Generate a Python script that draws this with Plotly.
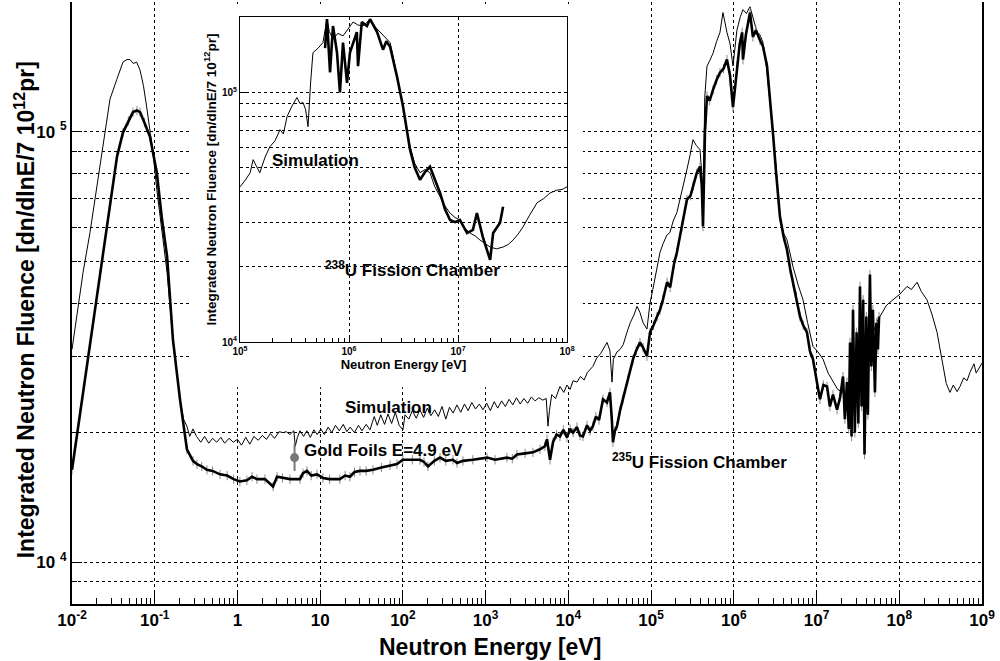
import plotly.graph_objects as go

# ---------------- data ----------------
# Main panel: simulation (thin line)
sim_energy_eV = [
    0.0100, 0.0114, 0.0136, 0.0165, 0.0190, 0.0218, 0.0251, 0.0288, 0.0347, 0.0413,
    0.0460, 0.0502, 0.0550, 0.0605, 0.0664, 0.073, 0.080, 0.0953, 0.106, 0.120,
    0.141, 0.166, 0.185, 0.202, 0.223, 0.245, 0.265, 0.290,
    0.32, 0.36, 0.40, 0.45, 0.50, 0.56, 0.63, 0.70, 0.79, 0.89, 1.0, 1.12, 1.26, 1.41,
    1.58, 1.78, 2.0, 2.24, 2.5, 2.8, 3.2, 3.55, 3.9, 4.3, 4.8, 5.0, 5.3, 5.7, 6.3, 6.9,
    7.6, 8.4, 9.2, 10.2, 11.2, 12.5, 13.8, 15.3, 17, 19, 21, 23, 26, 29, 32, 36, 40,
    45, 49, 54, 60, 66, 73, 81, 90, 100, 106, 118, 130, 145, 160, 178, 197, 218, 242,
    268, 297, 330, 365, 405, 450, 500, 555, 615, 680, 755, 840, 930, 1030, 1140, 1270,
    1400, 1560, 1730, 1920, 2130, 2360, 2620, 2900, 3220, 3570, 3960, 4400, 4900, 5400,
    5670, 5900, 6300, 7000, 7920, 8800, 9620, 10500, 11400, 12700, 14000, 15500, 17000,
    19800, 22000, 24500, 27000, 29300, 31800, 33700, 35000, 38700, 42100, 46000, 51100,
    56000, 62000, 67600, 73400, 80000, 89200, 97000, 105000, 115000, 128000, 140000,
    155000, 169000, 185000, 205000, 225000, 245000, 271000, 295000, 321000, 350000,
    390000, 410000, 424000, 445000, 474000, 510000, 560000, 620000, 680000, 739000,
    780000, 826000, 900000, 977000, 1.09e6, 1.2e6, 1.29e6, 1.42e6, 1.57e6, 1.75e6,
    1.91e6, 2.07e6, 2.25e6, 2.5e6, 2.75e6, 2.97e6, 3.2e6, 3.61e6, 4.0e6, 4.39e6, 4.8e6,
    5.19e6, 6.0e6, 6.86e6, 7.8e6, 9.06e6, 1.04e7, 1.2e7, 1.38e7, 1.58e7, 1.8e7, 2.09e7,
    2.4e7, 2.76e7, 3.2e7, 3.6e7, 4.07e7, 4.7e7, 5.3e7, 5.84e7, 7.0e7, 8.4e7, 1.0e8,
    1.24e8, 1.4e8, 1.64e8, 1.85e8, 2.16e8, 2.5e8, 2.86e8, 3.37e8, 3.7e8, 4.1e8, 4.5e8,
    5.0e8, 5.42e8, 6.0e8, 6.6e8, 7.15e8, 8.0e8, 8.5e8, 9.44e8, 1.0e9,
]
sim_fluence = [
    31200, 37200, 47100, 58300, 70000, 83000, 100000, 119000, 132000, 145000,
    147000, 147000, 144000, 145000, 139000, 128000, 114000, 89400, 73300, 60000,
    47100, 32900, 27500, 23900, 21500, 20700, 19600, 20400,
    19600, 19000, 19600, 18900, 19400, 19000, 19500, 18900, 19400, 19000, 19300, 18700,
    19500, 18800, 19600, 19200, 19700, 19300, 19900, 19400, 20100, 20000, 20100, 19800,
    20200, 18600, 19500, 20200, 19600, 20200, 19500, 20300, 19800, 20400, 19800, 20600,
    20000, 20800, 20200, 20900, 20100, 20600, 20000, 20800, 20200, 20900, 20300, 21800,
    20800, 22000, 20900, 22100, 21000, 22300, 20800, 20300, 22000, 21500, 22500, 21600,
    22600, 21700, 22800, 21900, 22600, 21800, 23000, 21500, 22900, 22200, 23200, 22300,
    23300, 22500, 23500, 22700, 23300, 22600, 23400, 22500, 23600, 22800, 23700, 23000,
    23900, 23200, 24100, 23300, 24000, 23400, 24200, 23700, 24100, 23800, 24000,
    20700, 22500, 24500, 24000, 25600, 24800, 25800, 25200, 26400, 26200, 27000, 26500,
    27600, 28500, 29800, 30500, 31500, 32400, 31000, 26200, 29600, 30800, 31200, 32000,
    34200, 36000, 37500, 39300, 38000, 36000, 34800, 40000, 43000, 47500, 52400, 55000,
    57500, 58300, 62000, 64900, 70000, 74000, 81600, 88000, 95800, 93000,
    90800, 80000, 63500, 120000, 142000, 146000, 152000, 162000, 170000, 189000,
    178000, 170000, 160000, 142000, 172000, 185000, 192000, 188000, 195000, 180000,
    170000, 168000, 161000, 140000, 116000, 99500, 85000, 63500, 58000, 56100, 52000,
    48600, 44000, 40700, 36000, 31700, 30800, 29600, 27500, 26200, 25200, 24800,
    24300, 24800, 26500, 29000, 31200, 33500, 36000, 37200, 39500, 40700, 41800,
    43700, 43000, 44700, 42500, 40700, 37500, 34200, 28500, 26000, 24800, 25800,
    24900, 25600, 26800, 26400, 27600, 28900, 27500, 28500, 29000,
]

# Main panel: measured fluence (thick line)
meas_energy_eV = [
    0.0100, 0.0125, 0.0165, 0.0218, 0.0288, 0.0350, 0.0413, 0.0480, 0.0546, 0.0610,
    0.0664, 0.0750, 0.0877, 0.106, 0.1225, 0.141, 0.166, 0.202, 0.245, 0.290, 0.324,
    0.370, 0.428, 0.500, 0.615, 0.75, 0.90, 1.07, 1.30, 1.50, 1.72, 2.15, 2.69, 3.01,
    3.5, 4.32, 5.70, 6.20, 6.93, 7.8, 9.15, 10.8, 13, 17.3, 20, 22.9, 26, 30.3, 36,
    43.5, 55, 70, 84.8, 100, 130, 161, 180, 201, 240, 281, 330, 403, 451, 532, 700,
    1040, 1300, 1810, 2100, 2390, 3000, 3730, 4540, 5210, 5520, 6000, 6520, 7200,
    7920, 8700, 9620, 10500, 11400, 12700, 13800, 15000, 16800, 18300, 19800, 21500,
    23500, 26200, 29300, 31800, 33500, 34600, 36500, 38700, 42100, 45700, 52000,
    60400, 66000, 73400, 80000, 89200, 97000, 107000, 118000, 128000, 139000, 156000,
    170000, 190000, 205000, 235000, 271000, 300000, 321000, 355000, 390000, 410000,
    424000, 448000, 474000, 510000, 560000, 620000, 680000, 750000, 826000, 900000,
    977000, 1.09e6, 1.18e6, 1.26e6, 1.29e6, 1.40e6, 1.57e6, 1.70e6, 1.85e6, 2.07e6,
    2.25e6, 2.52e6, 2.75e6, 2.97e6, 3.25e6, 3.61e6, 4.0e6, 4.39e6, 4.8e6, 5.19e6,
    5.7e6, 6.31e6, 6.9e6, 7.66e6, 8.3e6, 9.06e6, 1.0e7, 1.1e7, 1.21e7, 1.34e7,
    1.45e7, 1.58e7, 1.77e7, 1.93e7, 2.09e7, 2.2e7, 2.33e7, 2.45e7, 2.54e7, 2.65e7,
    2.76e7, 2.9e7, 3.05e7, 3.2e7, 3.35e7, 3.5e7, 3.66e7, 3.8e7, 4.0e7, 4.17e7, 4.42e7,
    4.6e7, 4.8e7, 5.08e7, 5.3e7, 5.52e7, 5.7e7,
]
meas_fluence = [
    16400, 22200, 32000, 46600, 67400, 87500, 99500, 106000, 111000, 112000,
    111000, 105000, 97300, 80300, 62500, 51300, 32900, 23900, 18300, 17200, 16900,
    16700, 16400, 16300, 16000, 15900, 15600, 15400, 15500, 15800, 15600, 15600, 15000, 15800,
    15700, 15600, 15600, 16100, 16300, 15900, 16000, 15700, 15600, 15600, 15900, 15800, 16200, 16300, 16300,
    16400, 16600, 16800, 16900, 17300, 17300, 17300, 17100, 16700, 17200, 17500, 17200, 17300, 17000, 17200, 17300,
    17500, 17300, 17500, 17400, 17800, 17900, 18000, 18300, 18600, 19300, 17300, 19000, 19800,
    19600, 20300, 19500, 20400, 20000, 20600, 19700, 19600, 20800, 20200, 20700, 21800,
    21400, 23900, 23500, 24800, 21500, 19000, 20200, 20700, 22500, 23900, 26500,
    29600, 31000, 32400, 31500, 30100, 34200, 35500, 37200, 38500, 40700, 44700,
    43500, 49500, 52400, 60000, 69500, 71000, 74600, 80000, 83000, 75000,
    60200, 100000, 121000, 118000, 125000, 132000, 137000, 140000, 147000, 135000,
    114000, 142000, 160000, 170000, 147000, 168000, 189000, 166000, 172000, 163000,
    158000, 142000, 120000, 99500, 80000, 63500, 57000, 53200, 48000, 44700,
    41500, 37200, 35500, 34200, 31000, 29600, 26500, 23900, 25800, 25600,
    23000, 24500, 22600, 24200, 27000, 21500, 26200, 20400, 32400, 19600,
    38600, 20000, 34200, 21000, 43700, 23000, 40700, 17800, 37200, 22000, 46600,
    28500, 38600, 24800, 36000, 31200, 37200,
]
meas_err_percent = 2.5

# Gold foil activation point
gold_energy_eV = [4.9]
gold_fluence = [17500]
gold_err_plus = [1300]
gold_err_minus = [1200]

# Inset: simulation
ins_sim_energy_eV = [
    1.00e5, 1.12e5, 1.24e5, 1.32e5, 1.40e5, 1.52e5, 1.70e5, 1.88e5, 2.1e5, 2.33e5,
    2.5e5, 2.70e5, 3.0e5, 3.33e5, 3.55e5, 3.79e5, 4.0e5, 4.21e5, 4.45e5, 4.67e5,
    5.2e5, 5.77e5, 6.28e5, 6.6e5, 7.13e5, 7.9e5, 8.81e5, 9.8e5, 1.09e6, 1.2e6,
    1.34e6, 1.45e6, 1.56e6, 1.75e6, 1.92e6, 2.15e6, 2.38e6, 2.55e6, 2.75e6, 2.95e6,
    3.13e6, 3.35e6, 3.63e6, 4.0e6, 4.48e6, 5.0e6, 5.53e6, 6.1e6, 6.84e6, 7.6e6,
    8.45e6, 9.4e6, 1.04e7, 1.16e7, 1.29e7, 1.45e7, 1.59e7, 1.78e7, 1.97e7, 2.25e7,
    2.59e7, 2.9e7, 3.2e7, 3.55e7, 3.95e7, 4.5e7, 5.31e7, 6.1e7, 6.98e7, 8.0e7,
    9.0e7, 1.0e8,
]
ins_sim_fluence = [
    41800, 44500, 47600, 53700, 51000, 47600, 55000, 60500, 64000, 70800,
    68000, 79800, 88000, 95200, 90000, 90900, 85000, 72800, 110000, 144000,
    150000, 158000, 196000, 175000, 163000, 172000, 168000, 180000, 191000, 186000,
    184000, 190000, 196000, 182000, 174000, 166000, 158000, 138000, 116000, 100000,
    87600, 72000, 60500, 52000, 47600, 49000, 47600, 42000, 38100, 35000,
    32800, 31500, 30800, 28500, 27300, 26500, 25600, 24800, 24000, 23600,
    24000, 24600, 25600, 27000, 28900, 32000, 36100, 37500, 39500, 40500,
    40800, 41800,
]

# Inset: 238U fission chamber
ins_meas_energy_eV = [
    6.03e5, 6.28e5, 6.70e5, 7.13e5, 7.76e5, 8.26e5, 8.81e5, 9.59e5, 1.02e6, 1.10e6,
    1.18e6, 1.21e6, 1.31e6, 1.46e6, 1.56e6, 1.81e6, 2.05e6, 2.2e6, 2.38e6, 2.75e6,
    3.13e6, 3.63e6, 4.0e6, 4.48e6, 5.0e6, 5.53e6, 6.2e6, 6.84e6, 7.6e6, 8.45e6,
    9.4e6, 1.04e7, 1.21e7, 1.37e7, 1.49e7, 1.69e7, 1.97e7, 2.10e7, 2.43e7, 2.59e7,
]
ins_meas_fluence = [
    150000, 196000, 120000, 184000, 144000, 99800, 158000, 109000, 144000, 160000,
    174000, 127000, 191000, 184000, 196000, 174000, 148000, 160000, 152000, 116000,
    87600, 58900, 50000, 44600, 48000, 50300, 44000, 39500, 34000, 30800,
    30200, 30800, 27300, 28100, 32800, 26300, 21300, 27300, 30000, 34800,
]

# Axis ticks
main_x_ticks = [1e-2, 1e-1, 1, 10, 1e2, 1e3, 1e4, 1e5, 1e6, 1e7, 1e8, 1e9]
main_x_labels = ["10<sup>-2</sup>", "10<sup>-1</sup>", "1", "10", "10<sup>2</sup>",
                 "10<sup>3</sup>", "10<sup>4</sup>", "10<sup>5</sup>", "10<sup>6</sup>",
                 "10<sup>7</sup>", "10<sup>8</sup>", "10<sup>9</sup>"]
main_y_ticks = [1e4, 1e5]
main_y_labels = ["10\u00a0<sup>4</sup>", "10\u00a0<sup>5</sup>"]
ins_x_ticks = [1e5, 1e6, 1e7, 1e8]
ins_x_labels = ["10<sup>5</sup>", "10<sup>6</sup>", "10<sup>7</sup>", "10<sup>8</sup>"]
ins_y_ticks = [1e4, 1e5]
ins_y_labels = ["10<sup>4</sup>", "10<sup>5</sup>"]

# ---------------- figure ----------------
FONT = "Liberation Sans, Arial, Helvetica, sans-serif"

def decade_minors(k0, k1):
    return [m * 10.0 ** k for k in range(k0, k1) for m in range(2, 10)]

fig = go.Figure()

# main panel
fig.add_trace(go.Scatter(x=sim_energy_eV, y=sim_fluence, mode="lines",
                         line=dict(color="black", width=1), xaxis="x", yaxis="y",
                         showlegend=False, hoverinfo="skip"))
fig.add_trace(go.Scatter(x=meas_energy_eV, y=meas_fluence, mode="markers",
                         marker=dict(size=1, color="rgba(0,0,0,0)"),
                         error_y=dict(type="percent", value=meas_err_percent,
                                      color="#8a8a8a", thickness=1, width=0),
                         xaxis="x", yaxis="y", showlegend=False, hoverinfo="skip"))
fig.add_trace(go.Scatter(x=meas_energy_eV, y=meas_fluence, mode="lines",
                         line=dict(color="black", width=2.6), xaxis="x", yaxis="y",
                         showlegend=False, hoverinfo="skip"))
fig.add_trace(go.Scatter(x=gold_energy_eV, y=gold_fluence, mode="markers",
                         marker=dict(size=9, color="#777777"),
                         error_y=dict(type="data", array=gold_err_plus,
                                      arrayminus=gold_err_minus, color="#777777",
                                      thickness=2, width=0),
                         xaxis="x", yaxis="y", showlegend=False, hoverinfo="skip"))

# inset
fig.add_trace(go.Scatter(x=ins_sim_energy_eV, y=ins_sim_fluence, mode="lines",
                         line=dict(color="black", width=1), xaxis="x2", yaxis="y2",
                         showlegend=False, hoverinfo="skip"))
fig.add_trace(go.Scatter(x=ins_meas_energy_eV, y=ins_meas_fluence, mode="lines",
                         line=dict(color="black", width=2.6), xaxis="x2", yaxis="y2",
                         showlegend=False, hoverinfo="skip"))

grid_common = dict(showgrid=True, gridcolor="black", gridwidth=1, griddash="dot",
                   zeroline=False, showline=True, linecolor="black", ticks="inside",
                   tickcolor="black", tickwidth=1, type="log")

fig.update_layout(
    width=1000, height=661,
    margin=dict(l=72, r=18, t=2, b=57),
    paper_bgcolor="white", plot_bgcolor="white",
    font=dict(family=FONT, color="black", weight="bold"),
    xaxis=dict(**grid_common, domain=[0, 1], anchor="y", range=[-2, 9], linewidth=2,
               mirror=False, ticklen=13, tickvals=main_x_ticks, ticktext=main_x_labels,
               tickfont=dict(size=17, family=FONT, weight="bold"),
               minor=dict(tickvals=decade_minors(-2, 9), ticklen=6, ticks="inside",
                          tickcolor="black", showgrid=False)),
    yaxis=dict(**grid_common, domain=[0, 1], anchor="x", range=[3.90309, 5.30103],
               linewidth=2, mirror=True, ticklen=10, tickvals=main_y_ticks,
               ticktext=main_y_labels,
               tickfont=dict(size=17, family=FONT, weight="bold"),
               minor=dict(tickvals=[9e3] + decade_minors(4, 5) + [2e5], ticklen=5,
                          ticks="inside", tickcolor="black", showgrid=True,
                          gridcolor="black", griddash="dot", gridwidth=1)),
    xaxis2=dict(**grid_common, domain=[0.1846, 0.5440], anchor="y2", range=[5, 8],
                linewidth=1, mirror=True, ticklen=7, tickvals=ins_x_ticks,
                ticktext=ins_x_labels,
                tickfont=dict(size=10, family=FONT, weight="bold"),
                minor=dict(tickvals=decade_minors(5, 8), ticklen=4, ticks="inside",
                           tickcolor="black", showgrid=False),
                title=dict(text="Neutron Energy [eV]", standoff=2,
                           font=dict(size=13, family=FONT, weight="bold"))),
    yaxis2=dict(**grid_common, domain=[0.4352, 0.9751], anchor="x2", range=[4, 5.30103],
                linewidth=1, mirror=True, ticklen=6, tickvals=ins_y_ticks,
                ticktext=ins_y_labels,
                tickfont=dict(size=10, family=FONT, weight="bold"),
                minor=dict(tickvals=decade_minors(4, 5), ticklen=3, ticks="inside",
                           tickcolor="black", showgrid=True, gridcolor="black",
                           griddash="dot", gridwidth=1),
                title=dict(text="Integrated Neutron Fluence [dn/dlnE/7 10<sup>12</sup>pr]",
                           standoff=2, font=dict(size=13.5, family=FONT, weight="bold"))),
    shapes=[dict(type="rect", xref="x", yref="y", x0=0.282, x1=15000,
                 y0=25500, y1=198000, fillcolor="white", line=dict(width=0),
                 layer="between")],
)

def ann(text, x, y, size=17, **kw):
    d = dict(text=text, x=x, y=y, xref="paper", yref="paper", xanchor="left",
             yanchor="middle", showarrow=False,
             font=dict(size=size, family=FONT, color="black", weight="bold"))
    d.update(kw)
    return d

fig.update_layout(annotations=[
    ann("Simulation", 0.2978, 0.3272),
    ann("Gold Foils E=4.9 eV", 0.2527, 0.2558),
    ann("<sup>235</sup>U Fission Chamber", 0.5912, 0.2380),
    ann("Simulation", 0.2176, 0.7375),
    ann("<sup>238</sup>U Fission Chamber", 0.2758, 0.5560),
    # main axis titles
    ann("Neutron Energy [eV]", 0.459, -0.0715, size=23, xanchor="center"),
    ann("Integrated Neutron Fluence [dn/dlnE/7 10<sup>12</sup>pr]", -0.0516, 0.488,
        size=23, xanchor="center", textangle=-90),
])

fig.write_html("out.html", config={"displayModeBar": False},
               post_script="document.body.style.margin='0px';")
